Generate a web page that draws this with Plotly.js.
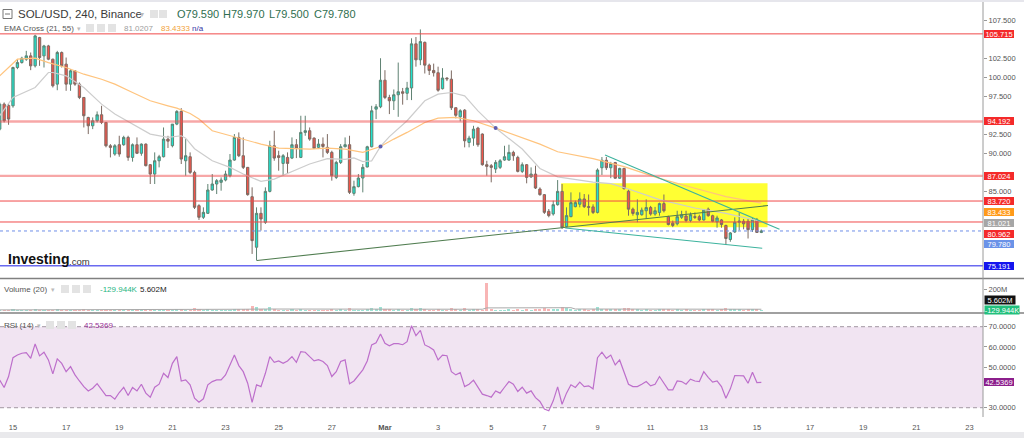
<!DOCTYPE html>
<html><head><meta charset="utf-8">
<script src="https://cdn.plot.ly/plotly-3.0.1.min.js"></script>
<style>html,body{margin:0;padding:0;background:#fff;}#chart{width:1024px;height:438px;}</style>
</head><body><div id="chart"></div>
<script>
// ---------- DATA (SOL/USD 240, Binance; 4h candles from 2022-02-14 12:00) ----------
const startTime = '2022-02-14T12:00:00Z';
const open = [93.18,96.47,96.3,96.25,101.29,101.94,102.38,102.82,101.51,105.23,
102.82,104.13,102.38,99.1,103.26,101.73,99.1,100.85,99.1,97.35,
94.72,93.62,94.28,95.07,94.06,90.99,89.9,91.13,91.13,92.09,
89.46,91.13,90.0,91.21,88.5,87.27,89.02,89.55,91.87,91.0,
93.84,95.51,89.02,89.55,87.49,83.11,81.58,82.1,85.17,85.96,
86.18,86.48,87.05,89.11,92.09,89.68,88.15,84.29,77.64,82.1,
80.92,84.99,90.99,89.68,88.67,89.46,89.37,91.13,89.46,92.75,
92.97,92.0,90.78,91.21,90.78,90.12,86.83,88.8,90.86,91.13,
84.73,85.61,86.75,88.2,90.86,95.81,96.12,99.62,97.35,96.91,
97.7,98.1,97.9,98.6,104.4,102.3,104.6,101.6,100.9,100.6,
98.5,99.9,99.75,96.0,94.8,95.68,91.43,92.0,93.32,92.53,
88.5,88.37,87.93,88.15,89.11,89.11,90.12,89.46,87.62,88.5,
86.9,87.27,85.3,84.56,82.37,82.02,83.24,84.99,80.35,81.67,
82.98,83.3,83.99,82.98,82.95,82.22,88.1,89.08,88.1,88.78,
86.72,88.01,85.01,82.65,81.92,81.92,82.44,82.86,82.01,82.22,
83.38,81.66,80.81,80.72,81.58,81.75,81.15,81.66,81.66,81.23,
82.65,81.79,80.98,81.23,80.51,78.66,79.65,80.93,81.06,81.06,
79.95,81.23,79.59];
const high = [96.69,96.69,96.6,101.4,102.38,102.7,103.48,103.26,105.6,105.32,
104.27,104.27,102.45,103.48,103.4,102.6,101.07,100.94,99.32,97.4,
94.8,94.72,95.51,96.25,94.1,91.21,91.21,92.31,92.31,92.31,
91.3,92.09,91.3,91.3,88.59,90.12,89.8,93.4,92.3,93.84,
95.68,95.94,91.87,90.12,87.71,83.3,82.89,85.96,87.27,86.61,
86.83,87.71,89.9,92.53,92.75,92.09,88.2,85.52,82.89,82.89,
85.52,91.65,92.97,90.34,89.9,90.12,92.09,91.87,94.94,94.94,
93.4,92.09,91.87,92.09,92.53,90.34,89.02,91.21,92.09,92.31,
86.4,87.27,88.59,90.99,96.25,96.47,102.51,100.94,97.7,98.4,
101.94,98.6,99.4,105.13,105.3,106.3,104.7,101.8,101.8,101.4,
101.2,100.0,100.9,96.0,95.8,95.81,92.31,93.62,93.49,92.62,
89.02,88.59,89.11,89.24,90.99,91.13,90.34,89.68,88.8,88.59,
88.15,88.37,85.52,84.64,82.67,83.77,86.48,85.96,82.89,84.86,
83.77,84.86,84.64,84.58,83.29,88.01,89.51,89.51,88.87,88.87,
88.1,88.1,85.22,82.86,83.94,82.86,83.94,83.08,82.95,83.51,
84.58,81.79,81.15,82.44,82.44,82.44,82.22,82.22,81.92,82.65,
82.86,81.92,81.79,81.36,80.6,79.65,81.58,82.22,81.36,81.36,
81.49,81.49,79.97];
const low = [92.97,94.06,93.75,96.0,101.07,101.8,102.16,100.94,101.29,101.51,
101.29,102.25,98.66,98.3,101.29,98.22,98.22,98.88,97.13,93.4,
92.53,93.18,94.06,93.84,90.78,89.46,89.68,89.55,90.99,89.02,
88.9,89.9,89.68,88.28,85.96,85.96,88.15,89.46,90.7,90.78,
93.7,88.59,87.05,87.27,82.67,81.23,81.36,82.02,85.08,84.64,
85.08,86.31,86.83,89.02,89.5,87.93,84.42,76.76,75.88,79.83,
80.7,84.86,89.02,87.71,87.05,87.27,89.24,89.37,89.37,92.31,
91.65,90.56,90.56,89.46,89.9,86.4,86.61,88.59,90.78,84.64,
84.42,85.52,84.86,88.15,90.78,94.5,95.94,97.13,95.16,95.7,
94.8,96.4,97.0,97.0,101.4,101.6,100.5,100.3,100.1,98.1,
98.4,99.5,95.7,94.6,94.2,90.78,90.78,90.99,90.86,88.37,
87.05,86.18,87.4,87.93,89.02,89.02,89.02,87.49,87.4,86.05,
86.75,85.3,84.42,82.02,81.58,81.8,83.11,80.04,80.26,81.58,
82.89,82.89,82.8,81.8,82.01,82.09,87.15,87.8,86.72,86.64,
86.64,85.22,81.79,81.79,80.93,81.79,81.36,81.79,81.79,81.79,
82.22,80.51,80.29,80.51,81.36,80.93,80.93,81.36,81.06,81.15,
81.66,80.93,80.21,80.21,77.93,78.36,79.52,79.86,80.0,78.79,
79.65,79.52,79.5];
const close = [96.47,94.28,94.5,101.29,101.94,102.51,102.82,101.51,105.45,102.6,
104.13,102.38,98.88,103.26,101.51,99.1,100.85,99.1,97.35,94.94,
93.62,94.28,95.07,94.06,90.99,90.78,90.99,89.9,92.09,89.46,
91.13,90.0,91.21,88.37,87.27,89.02,89.55,91.87,91.6,93.84,
95.51,89.24,89.68,87.49,82.89,81.58,82.23,85.17,85.96,86.4,
86.48,87.27,89.11,92.09,89.68,88.15,84.56,78.51,82.1,81.36,
84.99,90.99,89.37,89.46,89.68,88.67,91.13,90.7,92.75,92.97,
91.87,90.64,91.21,90.9,90.12,87.05,88.8,90.86,91.13,84.86,
85.61,86.75,88.15,90.86,95.59,96.12,99.62,97.35,96.91,97.7,
98.1,97.9,98.6,104.4,102.3,104.7,101.6,100.9,100.6,98.3,
99.9,99.8,96.0,95.0,95.6,91.65,92.0,93.18,91.13,88.5,
88.28,88.15,88.8,89.02,89.55,90.12,89.68,87.62,88.5,86.83,
87.27,85.43,84.56,82.23,81.8,83.24,84.99,80.26,81.8,83.51,
83.51,83.99,82.98,82.9,82.22,87.8,89.08,88.1,88.65,86.72,
88.01,85.35,82.65,82.09,82.22,82.52,82.86,82.01,82.44,83.38,
82.44,80.63,80.51,81.66,81.92,81.15,81.92,81.58,81.23,82.52,
81.79,81.06,81.49,80.63,78.79,79.52,80.93,81.06,80.72,79.95,
81.23,79.59,79.78];
// volume in millions
const volume = [8,9,7,14,8,7,6,9,16,12, 10,8,12,14,9,11,7,8,9,15, 10,7,8,9,13,8,7,8,7,10,
9,8,7,9,11,10,8,12,7,10, 16,20,10,12,26,14,13,22,12,10, 8,9,12,20,18,14,22,42,38,16,
20,34,18,12,10,12,14,10,16,12, 10,9,8,10,9,18,12,14,8,24, 12,11,13,16,30,14,32,22,14,12,
18,10,12,30,20,24,22,12,10,14, 12,8,24,14,12,26,12,14,22,12, 252,18,12,10,12,14,10,16,12,18,
12,22,16,26,18,20,22,38,24,22, 12,14,16,12,14,40,22,20,16,18, 14,30,28,14,16,12,14,12,10,14,
16,20,12,16,12,14,10,12,10,16, 14,14,12,14,30,16,18,14,10,16, 14,18,5.602];
const volMaIdx = [0,40,55,60,80,109,110,129,130,150,172];
const volMaVal = [10,10,16,18,16,16,28,30,18,18,16];
const rsi = [43.7,40.0,45.4,54.7,56.0,56.9,57.2,54.4,61.5,55.6,
57.4,53.6,46.7,54.1,51.9,47.8,50.3,46.2,43.2,40.4,
38.3,39.6,41.9,38.8,36.0,36.0,34.2,37.5,40.1,36.0,
40.0,38.3,41.6,37.2,35.2,40.1,41.6,47.0,44.9,51.9,
55.2,43.2,43.7,41.3,34.7,32.7,34.4,41.3,42.9,43.7,
43.7,46.2,51.1,56.0,50.8,47.8,42.1,32.6,41.3,40.4,
47.0,55.2,52.4,53.1,51.9,53.1,55.2,52.4,57.7,57.4,
55.2,53.1,53.7,52.8,50.8,45.4,47.8,52.8,53.6,41.8,
43.2,45.7,48.7,53.1,61.0,62.1,66.4,61.8,60.6,61.6,
61.6,61.1,62.6,70.5,65.6,68.2,61.0,60.0,58.5,53.6,
56.0,55.7,47.8,46.2,47.3,40.4,41.6,43.6,40.0,36.7,
36.0,35.2,38.3,37.2,40.1,42.9,41.6,38.0,40.1,37.2,
38.3,35.0,33.1,29.3,28.5,33.4,40.3,31.7,37.2,41.3,
40.0,42.6,40.4,40.8,39.3,54.7,57.4,54.4,56.0,51.1,
53.6,47.8,41.6,40.4,40.4,41.6,42.9,40.8,41.6,45.4,
41.8,38.8,38.8,43.2,42.9,41.6,44.1,43.2,42.9,47.8,
45.0,42.6,43.2,40.4,34.7,39.3,45.9,45.7,45.7,42.1,
47.5,42.4,42.5369];
const ema21Idx = [0,3,8,11,12,15,19,23,26,30,34,38,41,42,44,48,52,55,59,62,66,70,74,78,80,82,84,86,88,90,92,96,99,102,105,108,112,118,122,126,130,134,138,142,149,157,164,172];
const ema21Val = [94.94,97.35,98.66,100.63,100.63,100.19,98.66,96.47,95.16,93.84,92.53,92.09,92.31,92.0,90.6,89.02,88.15,87.27,86.3,86.6,87.6,88.6,89.3,89.2,89.4,88.9,89.0,90.9,92.2,93.3,94.28,96.91,97.78,98.0,97.56,95.59,93.32,90.56,88.0,86.9,86.5,86.2,86.0,85.3,83.9,82.8,82.1,81.0207];
const ema55Idx = [0,4,8,11,15,19,23,26,30,34,38,40,43,45,48,52,55,59,63,67,70,74,78,82,86,89,92,96,99,103,107,112,118,122,126,134,141,149,157,164,172];
const ema55Val = [100.19,102.38,102.51,101.94,101.29,100.41,99.75,99.1,98.0,96.91,96.25,95.94,95.24,94.5,92.97,92.31,91.87,91.21,90.69,90.56,90.56,90.69,90.56,90.12,90.9,91.87,92.75,94.06,94.63,94.72,94.28,93.32,92.09,91.21,90.2,89.3,88.24,86.7,85.4,84.3,83.4333];
const crossIdx = [86,112];
const crossVal = [90.9,93.32];
const redLevels = [105.715, 83.720, 80.962];
const pinkLevels = [94.192, 87.024];
const blueLevel = 75.191;
const lastPrice = 79.780;
// trend lines: [startIdx, startPrice, endIdx, endPrice]
const trendUp = [58.1, 75.9, 173.5, 83.13];
const trendDownUpper = [136.7, 89.78, 176.1, 80.0];
const trendDownLower = [127.7, 80.17, 172.2, 77.5];
const boxZone = [126.8, 80.26, 173.4, 86.05];
const priceTicks = [85, 90, 92.5, 97.5, 100, 102.5, 107.5];
const rsiTicks = [30, 50, 60, 70];
const tickDates = ['2022-02-15','2022-02-17','2022-02-19','2022-02-21','2022-02-23','2022-02-25','2022-02-27','2022-03-01','2022-03-03','2022-03-05','2022-03-07','2022-03-09','2022-03-11','2022-03-13','2022-03-15','2022-03-17','2022-03-19','2022-03-21','2022-03-23'];
const tickText = ['15','17','19','21','23','25','27','<b>Mar</b>','3','5','7','9','11','13','15','17','19','21','23'];

// ---------- helpers ----------
const T0 = Date.parse(startTime), H4 = 4*3600*1000;
const tAt = i => new Date(T0 + i*H4).toISOString().replace('T',' ').slice(0,19);
const times = open.map((_,i)=>tAt(i));
const W=1024, H=438;
const PX = x => x/W, PY = y => 1 - y/H;
const FONT = 'Liberation Sans, Arial, sans-serif';

const traces = [];
traces.push({type:'scatter', mode:'lines', x:ema55Idx.map(tAt), y:ema55Val, yaxis:'y', xaxis:'x',
  line:{color:'#ffc47e', width:1.2}, hoverinfo:'skip'});
traces.push({type:'scatter', mode:'lines', x:ema21Idx.map(tAt), y:ema21Val, yaxis:'y', xaxis:'x',
  line:{color:'#cdcdcd', width:1.2}, hoverinfo:'skip'});
traces.push({type:'candlestick', x:times, open, high, low, close, xaxis:'x', yaxis:'y',
  increasing:{line:{color:'#5f8272', width:1}, fillcolor:'#1fe3cf'},
  decreasing:{line:{color:'#7d6a62', width:1}, fillcolor:'#f0554b'},
  hoverinfo:'skip'});
traces.push({type:'scatter', mode:'markers', x:crossIdx.map(tAt), y:crossVal, yaxis:'y',
  marker:{color:'#5d5db0', size:4}, hoverinfo:'skip'});
traces.push({type:'bar', x:times, y:volume, yaxis:'y2', xaxis:'x', width:H4*0.7,
  marker:{color:volume.map((v,i)=> close[i]>=open[i] ? 'rgba(38,190,160,0.45)' : 'rgba(240,90,90,0.45)')},
  hoverinfo:'skip'});
traces.push({type:'scatter', mode:'lines', x:volMaIdx.map(tAt), y:volMaVal, yaxis:'y2',
  line:{color:'#aaaaaa', width:1}, hoverinfo:'skip'});
traces.push({type:'scatter', mode:'lines', x:times, y:rsi, yaxis:'y3',
  line:{color:'#bd6fcb', width:1.2}, hoverinfo:'skip'});

const shapes = [];
shapes.push({type:'rect', xref:'paper', yref:'paper', x0:0, x1:1, y0:PY(0), y1:PY(2), fillcolor:'#e6e6ec', line:{width:0}});
shapes.push({type:'rect', xref:'paper', yref:'paper', x0:0, x1:1, y0:0, y1:PY(432), fillcolor:'#e9e9ec', line:{width:0}});
shapes.push({type:'rect', xref:'paper', yref:'y3', x0:0, x1:PX(983), y0:30, y1:70, fillcolor:'#f1e4f2', line:{width:0}, layer:'below'});
[30,70].forEach(v=>shapes.push({type:'line', xref:'paper', yref:'y3', x0:0, x1:PX(983), y0:v, y1:v, line:{color:'#b3a9b3', width:1.3, dash:'4px,3px'}}));
shapes.push({type:'rect', xref:'x', yref:'y', x0:tAt(boxZone[0]), x1:tAt(boxZone[2]), y0:boxZone[1], y1:boxZone[3], fillcolor:'rgba(255,255,0,0.8)', line:{width:0}, layer:'below'});
pinkLevels.forEach(v=>shapes.push({type:'line', xref:'paper', yref:'y', x0:0, x1:PX(983), y0:v, y1:v, line:{color:'rgba(240,80,80,0.5)', width:2.4}}));
redLevels.forEach(v=>shapes.push({type:'line', xref:'paper', yref:'y', x0:0, x1:PX(983), y0:v, y1:v, line:{color:'#f04a4a', width:1}}));
shapes.push({type:'line', xref:'paper', yref:'y', x0:0, x1:PX(983), y0:blueLevel, y1:blueLevel, line:{color:'#6a6af0', width:1.5}});
shapes.push({type:'line', xref:'paper', yref:'y', x0:0, x1:PX(983), y0:lastPrice, y1:lastPrice, line:{color:'#6f8fe8', width:1, dash:'dot'}});
const tl = (a,c,w)=>shapes.push({type:'line', xref:'x', yref:'y', x0:tAt(a[0]), y0:a[1], x1:tAt(a[2]), y1:a[3], line:{color:c, width:w}});
tl(trendUp,'#507d50',1.1);
tl(trendDownUpper,'#3db39e',1.1);
tl(trendDownLower,'#3db39e',1.1);
[278.5, 313].forEach(y=>shapes.push({type:'line', xref:'paper', yref:'paper', x0:0, x1:1, y0:PY(y), y1:PY(y), line:{color:'#808080', width:1.6}}));
shapes.push({type:'line', xref:'paper', yref:'paper', x0:PX(983), x1:PX(983), y0:PY(417), y1:PY(2), line:{color:'#9a9a9a', width:1}});
const icon=(x,y)=>shapes.push({type:'rect', xref:'paper', yref:'paper', x0:PX(x), x1:PX(x+8), y0:PY(y+8), y1:PY(y), fillcolor:'#e3e3e3', line:{width:0}});
[[150,10],[159,10],[86,24],[97,24],[108,24],[61,285],[72,285],[83,285],[46,321],[57,321],[68,321]].forEach(p=>icon(p[0],p[1]));
shapes.push({type:'rect', xref:'paper', yref:'paper', x0:PX(3), x1:PX(12), y0:PY(18.5), y1:PY(9.5), line:{color:'#777', width:1}});
shapes.push({type:'line', xref:'paper', yref:'paper', x0:PX(5), x1:PX(10), y0:PY(14), y1:PY(14), line:{color:'#777', width:1}});

const ann = [];
const txt=(x,y,t,size,color,extra)=>ann.push(Object.assign({xref:'paper', yref:'paper', x:PX(x), y:PY(y), xanchor:'left', yanchor:'middle', text:t, showarrow:false, font:{family:FONT, size:size, color:color}}, extra||{}));
txt(16,14,'SOL/USD, 240, Binance',11.5,'#3a3a3a');
txt(138,14,'▾',8,'#bbbbbb');
['O79.590','H79.970','L79.500','C79.780'].forEach((t,i)=>txt([175,221,267,312][i],14,t,11,'#2f6e4f'));
txt(2,28,'EMA Cross (21, 55)',8,'#555555');
txt(75,28,'▾',7,'#bbbbbb');
txt(122,28,'81.0207',8,'#9d9d9d');
txt(159,28,'83.4333',8,'#f2a23a');
txt(190,28,'n/a',8,'#3535a5');
txt(6,259,'<b>Investing</b>',14,'#111111');
txt(67,261,'.com',9.5,'#333333');
txt(2,289,'Volume (20)',8,'#555555');
txt(49,289,'▾',7,'#bbbbbb');
txt(98,289,'-129.944K',8,'#26b57f');
txt(138,289,'5.602M',8,'#222222');
txt(2,325,'RSI (14)',8,'#555555');
txt(35,325,'▾',7,'#bbbbbb');
txt(82,325,'42.5369',8,'#993399');
const lab=(yref,v,shift,bg,t,fc)=>ann.push({xref:'paper', x:PX(983.5), xanchor:'left', yref:yref, y:v, yanchor:'middle', yshift:shift,
  text:t, showarrow:false, bgcolor:bg, width:30, height:8, borderpad:0, borderwidth:0, align:'center', valign:'middle',
  font:{family:FONT, size:7.5, color:fc||'#ffffff'}});
lab('y',105.715,0,'#f42a2a','105.715');
lab('y',94.192,0,'#f42a2a','94.192');
lab('y',87.024,0,'#f42a2a','87.024');
lab('y',83.720,0,'#f42a2a','83.720');
lab('y',83.433,-8.5,'#ff9a1a','83.433');
lab('y',81.021,-1,'#a6a6a6','81.021');
lab('y',80.962,-11.6,'#f42a2a','80.962');
lab('y',lastPrice,-13.2,'#6b93e8','79.780');
lab('y',blueLevel,0,'#1515ee','75.191');
ann.push({xref:'paper', yref:'paper', x:PX(983.5), xanchor:'left', y:PY(299.5), yanchor:'middle', text:'5.602M', showarrow:false, bgcolor:'#111111', width:30, height:8, borderpad:0, font:{family:FONT, size:7.5, color:'#fff'}});
ann.push({xref:'paper', yref:'paper', x:PX(983.5), xanchor:'left', y:PY(309.5), yanchor:'middle', text:'-129.944K', showarrow:false, bgcolor:'#22c07c', width:34, height:8, borderpad:0, font:{family:FONT, size:7.5, color:'#fff'}});
lab('y3',42.5369,0,'#8c1f8c','42.5369');

const axFont = {family:FONT, size:7.5, color:'#555555'};
const layout = {
  width:W, height:H, margin:{l:0,r:0,t:0,b:0}, paper_bgcolor:'#ffffff', plot_bgcolor:'#ffffff',
  showlegend:false, boxgap:0.25, bargap:0,
  font:{family:FONT},
  xaxis:{domain:[0,PX(983)], anchor:'y3', type:'date', range:['2022-02-14 12:16','2022-03-23 12:14'],
    rangeslider:{visible:false}, showgrid:false, zeroline:false, showline:false, ticks:'', ticklabelstandoff:4,
    tickmode:'array', tickvals:tickDates, ticktext:tickText, tickfont:axFont, fixedrange:true},
  yaxis:{domain:[PY(277),PY(2)], anchor:'x', side:'right', range:[73.724,109.908], showgrid:false, zeroline:false,
    tickmode:'array', tickvals:priceTicks, ticktext:priceTicks.map(v=>v.toFixed(3)), ticks:'outside', ticklen:3, tickcolor:'#999', tickfont:axFont, showline:false},
  yaxis2:{domain:[PY(312),PY(279)], anchor:'x', side:'right', range:[-9.1,290.9], showgrid:false, zeroline:false,
    tickmode:'array', tickvals:[200], ticktext:['200M'], ticks:'outside', ticklen:3, tickcolor:'#999', tickfont:axFont},
  yaxis3:{domain:[PY(417),PY(313)], anchor:'x', side:'right', range:[25.41,76.77], showgrid:false, zeroline:false,
    tickmode:'array', tickvals:rsiTicks, ticktext:rsiTicks.map(v=>v.toFixed(4)), ticks:'outside', ticklen:3, tickcolor:'#999', tickfont:axFont},
  shapes, annotations:ann
};
Plotly.newPlot('chart', traces, layout, {staticPlot:true, displayModeBar:false});
</script></body></html>
